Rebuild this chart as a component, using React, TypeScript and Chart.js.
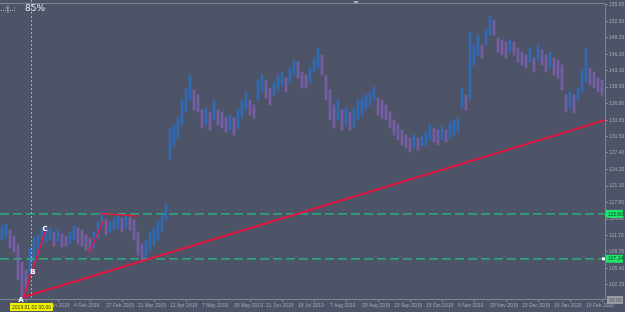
import React, { useEffect, useRef } from "react";
import { Chart, registerables } from "chart.js";

Chart.register(...registerables);

// ---- data (price bars, index = bar number) ----
const HIGHS = [
  113.49, 113.87, 112.72, 111.58, 109.87, 106.62, 105.1, 109.3, 111.2, 111.77,
  113.11, 113.11, 113.11, 112.34, 112.72, 111.96, 111.58, 112.34, 113.49, 113.11,
  112.72, 111.77, 111.2, 112.34, 114.25, 116.16, 114.63, 114.25, 115.01, 115.39,
  115.01, 115.58, 115.2, 114.63, 112.34, 109.87, 110.82, 112.34, 113.11, 114.25,
  115.77, 117.68, 132.16, 132.73, 134.06, 137.49, 139.78, 142.25, 139.4, 138.44,
  135.59, 135.97, 135.2, 137.49, 135.59, 135.2, 134.06, 134.63, 134.06, 135.59,
  137.49, 139.02, 137.49, 136.54, 141.3, 142.25, 141.3, 139.78, 140.92, 142.25,
  142.83, 141.68, 143.59, 145.11, 144.73, 142.83, 142.25, 143.59, 145.49, 147.4,
  146.06, 142.25, 139.4, 136.54, 137.49, 135.59, 135.97, 135.2, 135.97, 137.49,
  137.87, 138.44, 139.02, 139.97, 137.87, 137.49, 136.54, 135.2, 133.68, 132.73,
  131.77, 130.82, 130.25, 130.82, 130.25, 130.63, 131.39, 132.73, 132.16, 131.77,
  132.54, 131.77, 133.3, 133.68, 134.06, 139.78, 138.44, 150.45, 147.97, 149.87,
  147.97, 150.83, 153.49, 152.73, 149.3, 148.92, 148.54, 148.92, 148.54, 147.4,
  146.64, 146.06, 147.4, 145.49, 147.97, 147.02, 146.06, 146.64, 145.49, 145.11,
  144.16, 138.44, 139.02, 138.44, 139.78, 143.21, 147.4, 143.59, 142.83, 141.68,
  141.3,
];
const LOWS = [
  110.82, 111.2, 109.3, 108.53, 103.2, 99.96, 100.91, 104.15, 106.62, 107.96,
  109.87, 110.44, 110.82, 109.68, 110.44, 109.49, 109.68, 110.06, 110.82, 110.06,
  109.68, 108.91, 108.53, 109.3, 111.2, 113.11, 111.77, 112.34, 112.72, 113.11,
  112.34, 113.11, 112.72, 110.82, 107.96, 106.62, 107.39, 108.91, 109.87, 110.82,
  112.34, 114.63, 126.06, 128.91, 130.25, 132.73, 135.2, 137.49, 135.59, 135.2,
  132.16, 132.73, 131.77, 133.68, 132.73, 132.16, 131.39, 131.77, 130.82, 132.16,
  134.06, 135.59, 134.63, 134.06, 137.49, 139.02, 137.87, 136.54, 138.25, 139.4,
  140.35, 139.02, 140.92, 142.25, 141.68, 139.78, 139.78, 140.92, 142.83, 143.59,
  142.25, 137.49, 133.68, 132.16, 133.68, 131.77, 132.73, 131.77, 132.16, 133.68,
  134.63, 135.59, 136.54, 137.49, 134.63, 134.06, 133.68, 132.16, 130.82, 129.87,
  128.91, 128.34, 127.58, 128.34, 127.96, 128.72, 128.91, 129.87, 129.49, 128.91,
  129.87, 129.49, 130.25, 130.82, 131.39, 135.97, 135.59, 137.49, 144.16, 146.06,
  145.49, 147.97, 149.87, 149.87, 146.64, 146.06, 145.49, 146.64, 146.06, 144.73,
  144.16, 143.59, 144.73, 142.83, 145.11, 144.16, 142.83, 143.59, 142.25, 141.68,
  139.4, 135.2, 135.97, 135.01, 137.49, 139.02, 140.92, 140.35, 139.78, 139.02,
  138.44,
];
const X_LABELS = [
  "18 Dec 2018", "10 Jan 2019", "4 Feb 2019", "27 Feb 2019", "21 Mar 2019",
  "12 Apr 2019", "7 May 2019", "30 May 2019", "21 Jun 2019", "18 Jul 2019",
  "7 Aug 2019", "29 Aug 2019", "23 Sep 2019", "15 Oct 2019", "6 Nov 2019",
  "29 Nov 2019", "23 Dec 2019", "16 Jan 2020", "10 Feb 2020",
];
const Y_TICKS = [
  155.65, 152.5, 149.35, 146.2, 143.1, 139.95, 136.8, 133.65, 130.5, 127.4,
  124.25, 121.1, 117.95, 114.8, 111.7, 108.55, 105.4, 102.25,
];
const Y_MIN = 99.58;
const Y_MAX = 155.78;
const GREEN_LEVELS = [115.8, 107.24];
const TREND_LINE = [
  { x: 5.25, y: 99.9 },
  { x: 150.75, y: 133.65 },
];
const LEG_AC = [
  { x: 5.5, y: 100.1 },
  { x: 11.0, y: 112.9 },
];
const LEG_2 = [
  { x: 21.75, y: 108.47 },
  { x: 25.5, y: 114.63 },
];
const LEG_TOP = [
  { x: 24.5, y: 115.87 },
  { x: 34.0, y: 115.39 },
];
const POINT_LABELS = [
  { t: "A", x: 4.75, y: 99.3 },
  { t: "B", x: 7.75, y: 104.72 },
  { t: "C", x: 10.75, y: 112.95 },
];
const CROSS_X = 7.25;
const CROSS_LABEL = "2019.01.02 00:00";
const ZOOM_TEXT = "85%";

const BG = "#4e5468";
const AXIS = "#7f8593";
const TXT = "#a3a7b0";
const BLUE = "rgba(44,112,196,0.85)";
const PURPLE = "rgba(124,96,176,0.85)";
const RED = "#e2163f";
const GREEN = "#22c07e";

export default function App() {
  const ref = useRef<HTMLCanvasElement | null>(null);

  useEffect(() => {
    document.body.style.margin = "0";
    const canvas = ref.current!;
    const mids = HIGHS.map((h, i) => (h + LOWS[i]) / 2);
    const colors = mids.map((m, i) => (i === 0 || m >= mids[i - 1] ? BLUE : PURPLE));
    const xMin = -0.5;
    const xMax = 150.75;

    const overlay = {
      id: "overlay",
      beforeDraw(chart: any) {
        const c = chart.ctx;
        c.save();
        c.fillStyle = BG;
        c.fillRect(0, 0, chart.width, chart.height);
        c.restore();
      },
      afterDraw(chart: any) {
        const c = chart.ctx;
        const { chartArea: a, scales } = chart;
        const xs = scales.x;
        const ys = scales.y;
        c.save();
        c.strokeStyle = AXIS;
        c.lineWidth = 1;
        c.beginPath();
        c.moveTo(0, a.top - 0.5);
        c.lineTo(a.right, a.top - 0.5);
        c.stroke();
        c.fillStyle = "#a9adb6";
        c.beginPath();
        c.moveTo(353, 1);
        c.lineTo(359, 1);
        c.lineTo(356, 4);
        c.closePath();
        c.fill();
        const cx = Math.round(xs.getPixelForValue(CROSS_X)) + 0.5;
        c.strokeStyle = "#b3ad72";
        c.setLineDash([2, 2]);
        c.beginPath();
        c.moveTo(cx, 0);
        c.lineTo(cx, a.bottom);
        c.stroke();
        c.setLineDash([]);
        c.fillStyle = "#ffffff";
        c.font = "bold 7px 'DejaVu Sans'";
        c.textAlign = "center";
        c.textBaseline = "middle";
        POINT_LABELS.forEach((p) => {
          c.fillText(p.t, xs.getPixelForValue(p.x), ys.getPixelForValue(p.y));
        });
        c.font = "5px 'Liberation Sans'";
        const tw = c.measureText(CROSS_LABEL).width + 4;
        c.fillStyle = "#f2f200";
        c.fillRect(cx - tw / 2, a.bottom + 4, tw, 8);
        c.fillStyle = "#3a3a10";
        c.fillText(CROSS_LABEL, cx, a.bottom + 8.3);
        c.textAlign = "left";
        GREEN_LEVELS.forEach((lv, k) => {
          const y = ys.getPixelForValue(lv);
          c.fillStyle = "#1fe36a";
          c.fillRect(a.right + 1, y - 4, 17, 8);
          c.fillStyle = "#17402a";
          c.fillText(lv.toFixed(2), a.right + 3, y + 0.3);
          if (k === 1) {
            c.fillStyle = "#ffffff";
            c.fillRect(a.right - 3, y - 1.5, 3, 3);
          }
        });
        c.fillStyle = "#979ba4";
        c.fillRect(a.right + 2, a.bottom - 3, 16, 8);
        c.fillStyle = "#5b606b";
        c.fillText(Y_MIN.toFixed(2), a.right + 4, a.bottom + 1.3);
        c.fillStyle = "#e8e8e8";
        c.textBaseline = "alphabetic";
        c.font = "7px 'DejaVu Sans'";
        c.fillText("..:|..:", 0, 11);
        c.font = "9px 'DejaVu Sans'";
        c.fillText(ZOOM_TEXT, 25, 11);
        c.restore();
      },
    };

    const lineDs = (data: any[], color: string, width: number, dash: number[] = [], order = 0) => ({
      type: "line" as const,
      data,
      borderColor: color,
      borderWidth: width,
      borderDash: dash,
      pointRadius: 0,
      fill: false,
      tension: 0,
      order,
    });

    const chart = new Chart(canvas, {
      type: "bar",
      data: {
        datasets: [
          lineDs(TREND_LINE, RED, 2),
          lineDs(LEG_AC, RED, 1.6),
          lineDs(LEG_2, RED, 1.6),
          lineDs(LEG_TOP, RED, 1.6),
          lineDs([{ x: xMin, y: GREEN_LEVELS[0] }, { x: xMax, y: GREEN_LEVELS[0] }], GREEN, 1.2, [9, 4], 1),
          lineDs([{ x: xMin, y: GREEN_LEVELS[1] }, { x: xMax, y: GREEN_LEVELS[1] }], GREEN, 1.2, [9, 4], 1),
          {
            type: "bar" as const,
            data: HIGHS.map((h, i) => ({ x: i, y: [LOWS[i], h] })),
            backgroundColor: colors,
            borderWidth: 0,
            barThickness: 2,
            order: 5,
          },
        ] as any,
      },
      options: {
        animation: false,
        responsive: false,
        devicePixelRatio: 1,
        layout: { padding: { top: 4, left: 0, right: 0, bottom: 0 } },
        plugins: { legend: { display: false }, tooltip: { enabled: false } },
        scales: {
          x: {
            type: "linear",
            min: xMin,
            max: xMax,
            offset: false,
            afterBuildTicks: (s: any) => {
              s.ticks = X_LABELS.map((_, k) => ({ value: 2 + 8 * k }));
            },
            afterFit: (s: any) => {
              s.height = 13;
            },
            ticks: {
              autoSkip: false,
              maxRotation: 0,
              minRotation: 0,
              align: "start",
              padding: 1,
              color: TXT,
              font: { family: "'Liberation Sans'", size: 5 },
              callback: (_v: any, i: number) => X_LABELS[i],
            },
            grid: { drawOnChartArea: false, drawTicks: true, tickLength: 3, color: AXIS },
            border: { display: true, color: AXIS },
          },
          y: {
            type: "linear",
            position: "right",
            min: Y_MIN,
            max: Y_MAX,
            afterBuildTicks: (s: any) => {
              s.ticks = Y_TICKS.map((v) => ({ value: v }));
            },
            afterFit: (s: any) => {
              s.width = 20;
            },
            ticks: {
              padding: 1,
              color: TXT,
              font: { family: "'Liberation Sans'", size: 5 },
              callback: (v: any) => Number(v).toFixed(2),
            },
            grid: { drawOnChartArea: false, drawTicks: true, tickLength: 3, color: AXIS },
            border: { display: true, color: AXIS },
          },
        },
      } as any,
      plugins: [overlay],
    });
    return () => chart.destroy();
  }, []);

  return (
    <div style={{ position: "fixed", left: 0, top: 0, width: 625, height: 312 }}>
      <canvas ref={ref} width={625} height={312} style={{ display: "block" }} />
    </div>
  );
}
